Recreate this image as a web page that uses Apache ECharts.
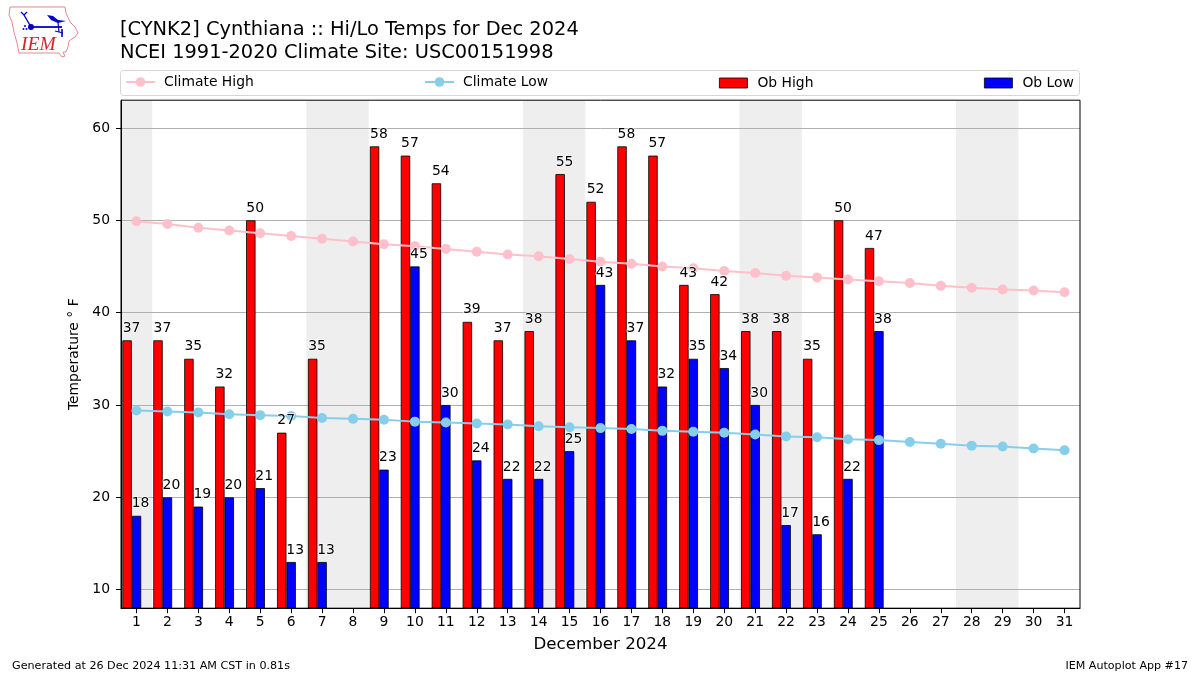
<!DOCTYPE html>
<html>
<head>
<meta charset="utf-8">
<style>html,body{margin:0;padding:0;background:#fff}#c{width:1200px;height:675px}</style>
<script src="https://cdn.jsdelivr.net/npm/echarts@6/dist/echarts.min.js"></script>
</head>
<body>
<div id="c"></div>
<script>
const days = ['1','2','3','4','5','6','7','8','9','10','11','12','13','14','15','16','17','18','19','20','21','22','23','24','25','26','27','28','29','30','31'];
const climateHigh = [49.9,49.6,49.2,48.9,48.6,48.3,48.0,47.7,47.4,47.2,46.9,46.6,46.3,46.1,45.8,45.5,45.3,45.0,44.8,44.5,44.3,44.0,43.8,43.6,43.4,43.2,42.9,42.7,42.5,42.4,42.2];
const climateLow = [29.4,29.3,29.2,29.0,28.9,28.8,28.6,28.5,28.4,28.2,28.1,28.0,27.9,27.7,27.6,27.5,27.4,27.2,27.1,27.0,26.8,26.6,26.5,26.3,26.2,26.0,25.8,25.6,25.5,25.3,25.1];
const obHigh = [37,37,35,32,50,27,35,null,58,57,54,39,37,38,55,52,58,57,43,42,38,38,35,50,47,null,null,null,null,null,null];
const obLow = [18,20,19,20,21,13,13,null,23,45,30,24,22,22,25,43,37,32,35,34,30,17,16,22,38,null,null,null,null,null,null];
const weekendDays = ['1','7','8','14','15','21','22','28','29'];
const yTicks = [10,20,30,40,50,60];
const yMin = 8, yMax = 63;
const titleText = '[CYNK2] Cynthiana :: Hi/Lo Temps for Dec 2024\nNCEI 1991-2020 Climate Site: USC00151998';
const yAxisTitle = 'Temperature \u00b0 F';
const xAxisTitle = 'December 2024';
const footerLeft = 'Generated at 26 Dec 2024 11:31 AM CST in 0.81s';
const footerRight = 'IEM Autoplot App #17';

const FONT = '"DejaVu Sans"';
const weekendBand = days.map(d => weekendDays.includes(d) ? yMax : null);

function labelSeries(name, values, dx) {
  return {
    name: name, type: 'scatter', data: values, symbol: 'circle', symbolSize: 0, z: 6, silent: true,
    itemStyle: { color: 'transparent', opacity: 1 },
    label: {
      show: true, position: 'top', distance: 5, offset: [dx, 0],
      formatter: p => String(p.value),
      fontFamily: FONT, fontSize: 13.9, color: '#000', opacity: 1,
      textBorderColor: 'rgba(255,255,255,0.85)', textBorderWidth: 1.5
    }
  };
}
function legendAt(left, top, name, w, h, pad, extra) {
  return Object.assign({
    left: left, top: top, padding: 0, itemWidth: w, itemHeight: h,
    data: [name], selectedMode: false,
    textStyle: { fontFamily: FONT, fontSize: 13.9, color: '#000', padding: [0, 0, 0, pad] }
  }, extra || {});
}
const blue = '#0000cc', red = '#d8232a';
const logo = [
  { type: 'polygon', silent: true, shape: { points: [[10,7],[65,7],[66,13],[70,22],[75,27],[78,33],[75,37],[69,41],[68,47],[66,52],[63,52],[65,56],[62,57],[59,53],[19,53],[17,43],[14,32],[12,22],[9,15]] }, style: { fill: '#fff', stroke: '#e58a8e', lineWidth: 1 } },
  { type: 'line', silent: true, shape: { x1: 31, y1: 27, x2: 62, y2: 27 }, style: { stroke: blue, lineWidth: 1.8 } },
  { type: 'line', silent: true, shape: { x1: 31, y1: 27, x2: 24, y2: 15 }, style: { stroke: blue, lineWidth: 1.4 } },
  { type: 'line', silent: true, shape: { x1: 24, y1: 15, x2: 27, y2: 12 }, style: { stroke: blue, lineWidth: 1.2 } },
  { type: 'line', silent: true, shape: { x1: 24, y1: 15, x2: 21, y2: 12 }, style: { stroke: blue, lineWidth: 1.2 } },
  { type: 'circle', silent: true, shape: { cx: 31, cy: 27, r: 3 }, style: { fill: blue } },
  { type: 'polygon', silent: true, shape: { points: [[47,15],[53,16],[58,20],[66,21],[58,23],[51,20]] }, style: { fill: blue } },
  { type: 'line', silent: true, shape: { x1: 58, y1: 22, x2: 59, y2: 32 }, style: { stroke: blue, lineWidth: 1.2 } },
  { type: 'line', silent: true, shape: { x1: 55, y1: 31, x2: 63, y2: 33 }, style: { stroke: blue, lineWidth: 1.2 } },
  { type: 'line', silent: true, shape: { x1: 62, y1: 29, x2: 62, y2: 37 }, style: { stroke: blue, lineWidth: 1.6 } },
  { type: 'circle', silent: true, shape: { cx: 23.5, cy: 29, r: 1 }, style: { fill: blue } },
  { type: 'circle', silent: true, shape: { cx: 26.5, cy: 29, r: 1 }, style: { fill: blue } },
  { type: 'circle', silent: true, shape: { cx: 25, cy: 26, r: 1 }, style: { fill: blue } },
  { type: 'text', silent: true, x: 21, y: 35, style: { text: 'IEM', fontFamily: '"Liberation Serif"', fontStyle: 'italic', fontSize: 19.5, fill: red } }
];

const chart = echarts.init(document.getElementById('c'), null, { renderer: 'canvas' });
chart.setOption({
  animation: false,
  backgroundColor: '#fff',
  title: [
    { text: titleText, left: 120, top: 18, padding: 0,
      textStyle: { fontFamily: FONT, fontSize: 19.4, fontWeight: 'normal', color: '#000', lineHeight: 23 } },
    { text: footerLeft, left: 12, top: 661, padding: 0,
      textStyle: { fontFamily: FONT, fontSize: 11.15, fontWeight: 'normal', color: '#000' } },
    { text: footerRight, right: 12, top: 661, padding: 0,
      textStyle: { fontFamily: FONT, fontSize: 11.1, fontWeight: 'normal', color: '#000' } }
  ],
  legend: [
    legendAt(125, 75, 'Climate High', 29, 12, 4),
    legendAt(424, 75, 'Climate Low', 29, 12, 4),
    legendAt(719, 76, 'Ob High', 28, 10, 5, { icon: 'rect', itemStyle: { borderWidth: 0.8 } }),
    legendAt(984, 76, 'Ob Low', 28, 10, 5, { icon: 'rect', itemStyle: { borderWidth: 0.8 } })
  ],
  graphic: [
    { type: 'group', z: -10, children: [
      { type: 'rect', silent: true, shape: { x: 120.5, y: 70.5, width: 959, height: 25, r: 3 }, style: { fill: '#fff', stroke: '#d6d6d6', lineWidth: 1 } }
    ] },
    { type: 'group', children: logo }
  ],
  grid: { left: 121, top: 100.2, width: 959, height: 508, show: true, backgroundColor: 'transparent', borderColor: '#000', borderWidth: 1, z: 5 },
  xAxis: [
    { type: 'category', data: days, boundaryGap: true,
      name: xAxisTitle, nameLocation: 'middle', nameGap: 28,
      nameTextStyle: { fontFamily: FONT, fontSize: 16.67, color: '#000' },
      axisLine: { show: true, lineStyle: { color: '#000', width: 1 } },
      axisTick: { show: true, alignWithLabel: true, length: 5, lineStyle: { color: '#000', width: 1 } },
      axisLabel: { interval: 0, fontFamily: FONT, fontSize: 13.9, color: '#000', margin: 7 },
      splitLine: { show: false } },
    { type: 'category', data: days, show: false }
  ],
  yAxis: {
    type: 'value', min: yMin, max: yMax,
    name: yAxisTitle, nameLocation: 'middle', nameGap: 39,
    nameTextStyle: { fontFamily: FONT, fontSize: 13.9, color: '#000' },
    axisLine: { show: true, lineStyle: { color: '#000', width: 1 } },
    axisTick: { show: true, length: 5, customValues: yTicks, lineStyle: { color: '#000', width: 1 } },
    axisLabel: { customValues: yTicks, fontFamily: FONT, fontSize: 13.9, color: '#000', margin: 11 },
    splitLine: { show: true, lineStyle: { color: '#b0b0b0', width: 1 } }
  },
  series: [
    { name: 'Weekend', type: 'bar', xAxisIndex: 1, data: weekendBand, barWidth: 31.5, z: -1, silent: true,
      itemStyle: { color: '#eeeeee' } },
    { name: 'Ob High', type: 'bar', data: obHigh, barWidth: 9.4, barGap: 0, z: 2,
      itemStyle: { color: '#ff0000', borderColor: '#000', borderWidth: 0.8 } },
    { name: 'Ob Low', type: 'bar', data: obLow, barWidth: 9.4, barGap: 0, z: 2,
      itemStyle: { color: '#0000ff', borderColor: '#000', borderWidth: 0.8 } },
    { name: 'Offset', type: 'bar', data: days.map(() => null), barWidth: 9.4, barGap: 0, z: 2, silent: true },
    { name: 'Climate High', type: 'line', data: climateHigh, symbol: 'circle', symbolSize: 10, z: 4,
      itemStyle: { color: '#ffc0cb' }, lineStyle: { color: '#ffc0cb', width: 2 } },
    { name: 'Climate Low', type: 'line', data: climateLow, symbol: 'circle', symbolSize: 10, z: 4,
      itemStyle: { color: '#87ceeb' }, lineStyle: { color: '#87ceeb', width: 2 } },
    labelSeries('High labels', obHigh, -5),
    labelSeries('Low labels', obLow, 4)
  ]
});
</script>
</body>
</html>
